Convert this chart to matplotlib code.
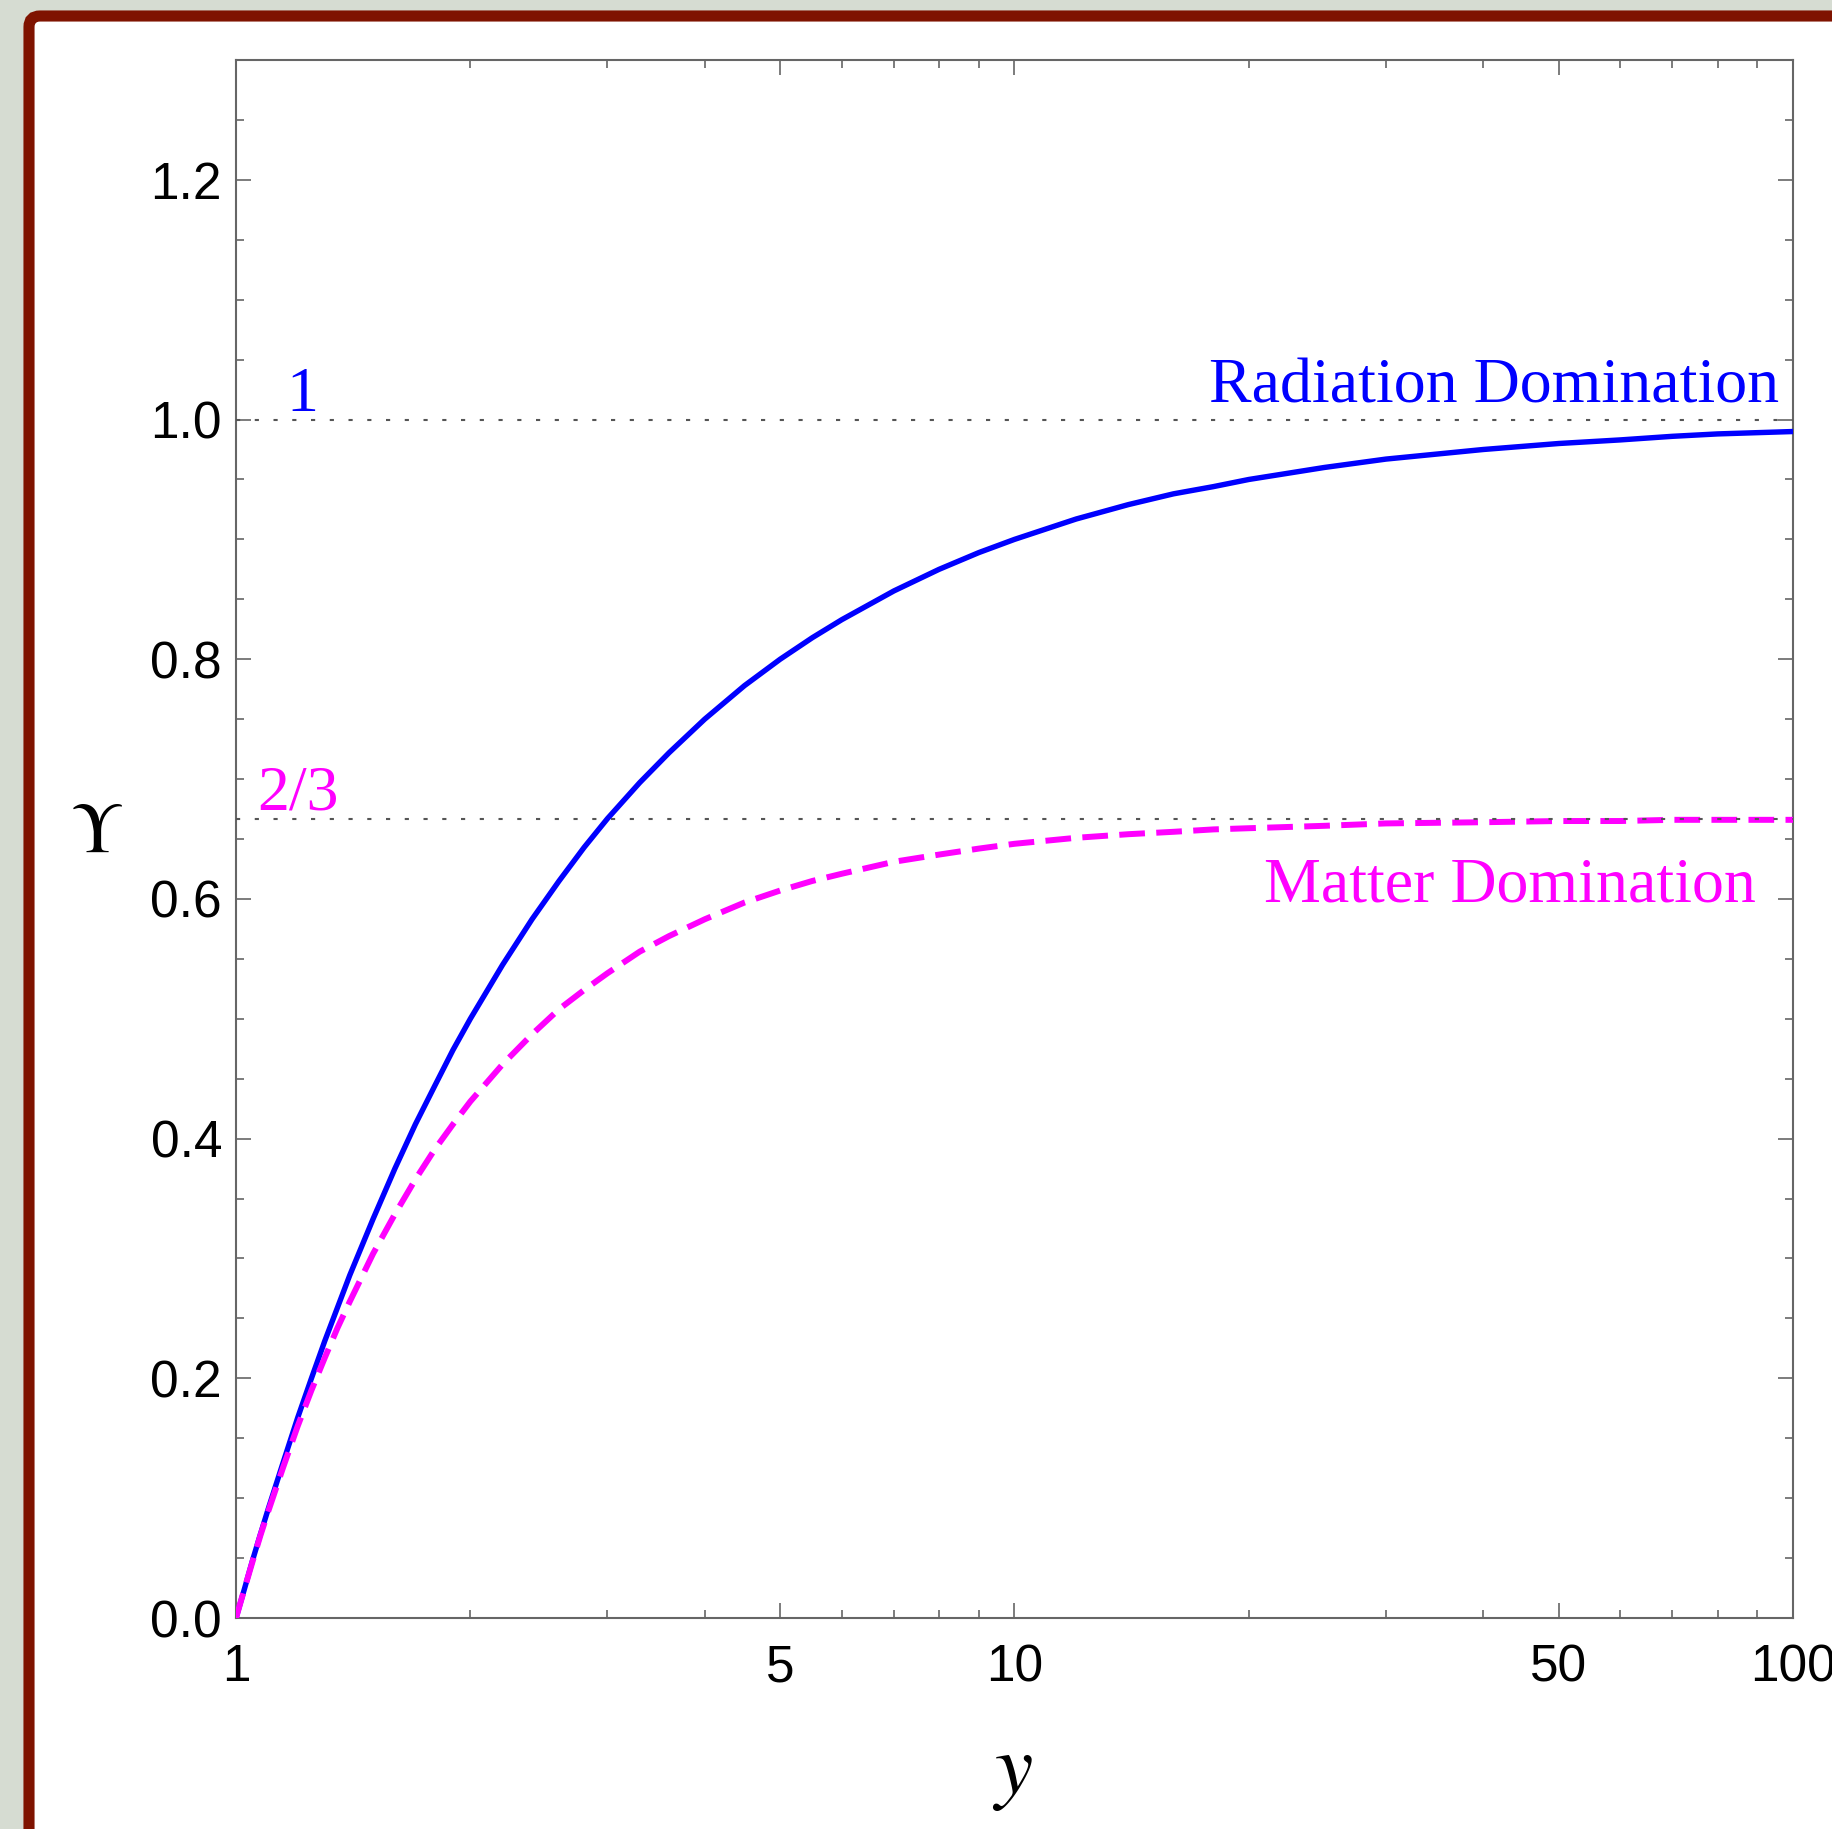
import matplotlib
matplotlib.use('Agg')
import matplotlib.pyplot as plt
import numpy as np
from matplotlib.patches import FancyBboxPatch
from matplotlib.ticker import FixedLocator, MultipleLocator, NullFormatter

# values
y_vals = [1, 1.025, 1.05, 1.075, 1.1, 1.15, 1.2, 1.25, 1.3, 1.35, 1.4, 1.5, 1.6,
          1.7, 1.8, 1.9, 2, 2.2, 2.4, 2.6, 2.8, 3, 3.3, 3.6, 4, 4.5, 5, 5.5, 6,
          7, 8, 9, 10, 12, 14, 16, 18, 20, 25, 30, 40, 50, 60, 70, 80, 100]
upsilon_rad = [0.0, 0.024, 0.048, 0.070, 0.091, 0.130, 0.167, 0.200, 0.231, 0.259,
               0.286, 0.333, 0.375, 0.412, 0.444, 0.474, 0.500, 0.545, 0.583, 0.615,
               0.643, 0.667, 0.697, 0.722, 0.750, 0.778, 0.800, 0.818, 0.833,
               0.857, 0.875, 0.889, 0.900, 0.917, 0.929, 0.938, 0.944, 0.950,
               0.960, 0.967, 0.975, 0.980, 0.983, 0.986, 0.988, 0.990]
upsilon_mat = [0.0, 0.024, 0.047, 0.069, 0.089, 0.126, 0.160, 0.190, 0.217, 0.242,
               0.264, 0.304, 0.337, 0.366, 0.391, 0.412, 0.431, 0.462, 0.487, 0.508,
               0.524, 0.538, 0.556, 0.569, 0.583, 0.597, 0.607, 0.615, 0.621,
               0.631, 0.637, 0.642, 0.646, 0.651, 0.654, 0.656, 0.658, 0.659,
               0.661, 0.663, 0.664, 0.665, 0.665, 0.666, 0.666, 0.666]
limits = [1.0, 2 / 3]
limit_labels = ['1', '2/3']

x_major = [1, 5, 10, 50, 100]
x_minor = [2, 3, 4, 6, 7, 8, 9, 20, 30, 40, 60, 70, 80, 90]

W, H = 1833, 1829
fig = plt.figure(figsize=(W / 100, H / 100), dpi=100)
fig.patch.set_facecolor('#d6dcd2')

# framed white card with dark red border, running off right/bottom
card = FancyBboxPatch((29 / W, -0.05), 1.2, (H - 16) / H + 0.05,
                      boxstyle='round,pad=0,rounding_size=0.006',
                      transform=fig.transFigure, facecolor='white',
                      edgecolor='#7f1300', linewidth=8, zorder=-5)
fig.patches.append(card)

ax = fig.add_axes([236 / W, 1 - 1618 / H, (1793 - 236) / W, (1618 - 60) / H])
ax.set_facecolor('none')

blue = '#0000ff'
magenta = '#ff00ff'

ax.plot(y_vals, upsilon_rad, color=blue, lw=3.9, zorder=3,
        solid_joinstyle='round')
ax.plot(y_vals, upsilon_mat, color=magenta, lw=4.3, dashes=(4.3, 1.9), zorder=4)
for v in limits:
    ax.axhline(v, color='#555555', lw=1.5, linestyle=(0, (2, 7)), zorder=5)

ax.set_xscale('log')
ax.set_xlim(1, 100)
ax.set_ylim(0, 1.3)

ax.xaxis.set_major_locator(FixedLocator(x_major))
ax.xaxis.set_minor_locator(FixedLocator(x_minor))
ax.xaxis.set_minor_formatter(NullFormatter())
ax.set_xticklabels([str(v) for v in x_major])
ax.yaxis.set_major_locator(MultipleLocator(0.2))
ax.yaxis.set_minor_locator(MultipleLocator(0.05))
ax.yaxis.set_major_formatter(plt.FuncFormatter(lambda v, p: f'{v:.1f}'))

for s in ax.spines.values():
    s.set_color('#666666')
    s.set_linewidth(1.5)
ax.tick_params(which='both', direction='in', top=True, right=True,
               color='#666666', width=1.2)
ax.tick_params(which='major', length=10.5)
ax.tick_params(which='minor', length=5.8)
ax.tick_params(axis='x', which='major', pad=18)
ax.tick_params(axis='y', which='major', pad=10)
for lab in ax.get_xticklabels() + ax.get_yticklabels():
    lab.set_fontfamily('Liberation Sans')
    lab.set_fontsize(37)

serif = 'Liberation Serif'
ax.text(96, 1.014, 'Radiation Domination', color=blue, family=serif,
        fontsize=46, ha='right', va='baseline')
ax.text(89.6, 0.598, 'Matter Domination', color=magenta, family=serif,
        fontsize=46, ha='right', va='baseline')
ax.text(1.16, 1.007, limit_labels[0], color=blue, family=serif,
        fontsize=46, ha='left', va='baseline')
ax.text(1.064, 0.675, limit_labels[1], color=magenta, family=serif,
        fontsize=46, ha='left', va='baseline')

fig.text(96 / W, 1 - 832 / H, r'$\Upsilon$', math_fontfamily='stix',
         fontsize=52, ha='center', va='center')
fig.text(1012 / W, 1 - 1793 / H, r'$y$', math_fontfamily='stix',
         fontsize=62, ha='center', va='baseline')

fig.savefig('out.png', dpi=100, facecolor=fig.get_facecolor())
